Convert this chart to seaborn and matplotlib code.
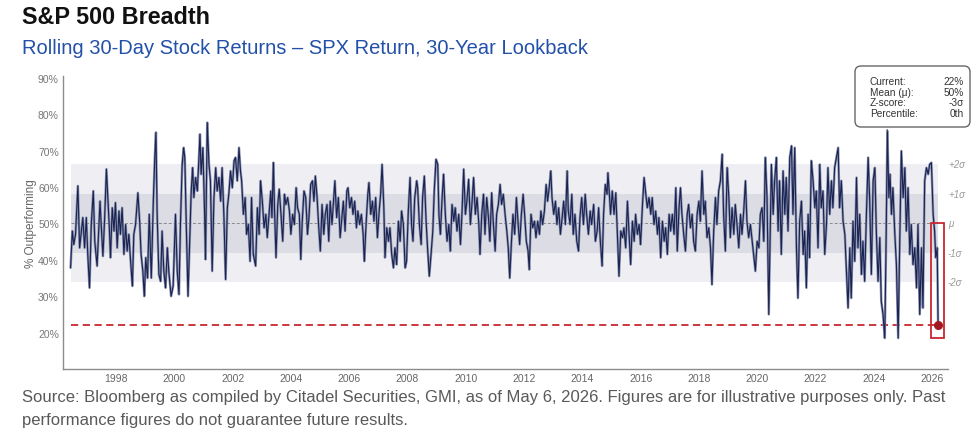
import matplotlib
matplotlib.use("Agg")
import matplotlib.pyplot as plt
import matplotlib.transforms as mtrans
from matplotlib.patches import FancyBboxPatch, Rectangle
import pandas as pd
import seaborn as sns

# ---------------- data (decimal year, % outperforming) ----------------
seg_1996_2002 = [(1996.44,37.8),(1996.50,47.9),(1996.55,44.2),(1996.61,47.0),(1996.69,60.3),(1996.75,43.3),(1996.80,47.0),(1996.86,51.6),(1996.92,43.3),(1996.98,51.6),(1997.03,41.5),(1997.09,32.3),(1997.15,49.7),(1997.22,58.9),(1997.27,45.1),(1997.35,38.3),(1997.45,56.1),(1997.49,49.7),(1997.55,41.0),(1997.61,51.6),(1997.67,64.9),(1997.72,57.1),(1997.77,48.8),(1997.81,40.6),(1997.87,54.3),(1997.93,47.9),(1997.98,55.7),(1998.04,43.3),(1998.10,53.4),(1998.15,47.0),(1998.21,54.3),(1998.27,41.5),(1998.33,49.7),(1998.38,42.4),(1998.44,47.0),(1998.50,39.6),(1998.56,32.8),(1998.61,47.0),(1998.67,49.7),(1998.75,58.4),(1998.81,50.6),(1998.86,41.5),(1998.92,36.9),(1998.97,30.0),(1999.02,40.6),(1999.08,35.0),(1999.14,52.5),(1999.21,35.0),(1999.28,56.1),(1999.33,68.1),(1999.37,75.0),(1999.41,52.5),(1999.47,36.0),(1999.53,34.1),(1999.58,47.9),(1999.64,36.9),(1999.70,32.3),(1999.76,43.3),(1999.81,36.9),(1999.89,30.0),(1999.96,32.8),(2000.04,52.5),(2000.10,36.9),(2000.16,30.5),(2000.21,49.7),(2000.27,66.2),(2000.32,70.8),(2000.36,68.1),(2000.41,49.7),(2000.47,30.0),(2000.52,43.3),(2000.58,58.9),(2000.63,65.3),(2000.67,57.1),(2000.73,62.6),(2000.79,58.9),(2000.84,67.2),(2000.88,74.5),(2000.92,63.5),(2000.98,70.8),(2001.04,52.5),(2001.07,40.1),(2001.13,77.7),(2001.19,66.2),(2001.24,61.7),(2001.30,36.9),(2001.36,57.1),(2001.42,65.3),(2001.47,58.9),(2001.53,62.6),(2001.59,56.1),(2001.64,65.3),(2001.70,52.5),(2001.76,34.6),(2001.82,54.3),(2001.87,58.0),(2001.93,64.4),(2001.99,59.8),(2002.05,67.2),(2002.10,68.1),(2002.16,61.7),(2002.22,70.8),(2002.27,64.4)]

seg_2002_2008 = [(2002.31,61.7),(2002.37,52.5),(2002.43,57.1),(2002.48,47.0),(2002.54,49.7),(2002.60,39.6),(2002.65,57.1),(2002.71,41.5),(2002.79,38.3),(2002.85,54.3),(2002.91,47.0),(2002.96,61.7),(2003.02,56.1),(2003.08,48.8),(2003.14,52.5),(2003.19,46.1),(2003.25,52.5),(2003.31,58.9),(2003.35,51.6),(2003.40,66.7),(2003.44,53.4),(2003.49,40.6),(2003.55,55.2),(2003.60,59.4),(2003.66,52.5),(2003.72,45.1),(2003.78,58.0),(2003.83,55.2),(2003.89,57.1),(2003.95,53.4),(2004.00,47.0),(2004.06,52.5),(2004.12,49.7),(2004.18,59.8),(2004.23,54.3),(2004.29,52.5),(2004.34,40.1),(2004.39,50.6),(2004.45,58.9),(2004.51,57.1),(2004.57,47.0),(2004.62,51.6),(2004.68,60.7),(2004.74,61.7),(2004.79,56.1),(2004.84,63.0),(2004.90,57.1),(2004.95,49.7),(2005.01,42.4),(2005.07,55.2),(2005.13,47.0),(2005.18,52.5),(2005.24,55.2),(2005.30,45.1),(2005.35,56.1),(2005.41,49.7),(2005.47,57.1),(2005.51,61.7),(2005.57,51.6),(2005.63,57.1),(2005.69,46.1),(2005.74,50.6),(2005.80,56.1),(2005.86,47.9),(2005.92,58.9),(2005.96,59.8),(2006.02,54.3),(2006.08,57.1),(2006.13,52.5),(2006.19,56.1),(2006.25,48.8),(2006.30,53.4),(2006.36,49.7),(2006.42,52.5),(2006.48,47.0),(2006.52,39.6),(2006.58,49.7),(2006.64,58.0),(2006.68,61.2),(2006.74,52.5),(2006.80,56.1),(2006.85,50.6),(2006.91,57.1),(2006.97,46.1),(2007.03,53.4),(2007.08,58.0),(2007.13,66.2),(2007.19,54.3),(2007.23,40.6),(2007.29,48.8),(2007.35,45.1),(2007.40,48.8),(2007.46,41.5),(2007.52,37.8),(2007.57,43.3),(2007.63,38.7),(2007.69,50.6),(2007.75,45.1),(2007.80,53.4),(2007.86,49.7),(2007.92,37.8),(2007.97,39.6),(2008.03,53.4),(2008.09,62.6),(2008.14,49.7),(2008.19,45.1),(2008.25,57.1),(2008.32,61.7)]

seg_2008_2014 = [(2008.35,59.8),(2008.41,49.7),(2008.47,44.2),(2008.52,57.1),(2008.58,63.0),(2008.64,50.6),(2008.69,43.3),(2008.75,35.5),(2008.81,41.5),(2008.87,47.9),(2008.92,58.9),(2008.98,67.6),(2009.04,66.2),(2009.08,52.5),(2009.13,47.0),(2009.19,57.1),(2009.24,63.5),(2009.30,52.5),(2009.36,45.1),(2009.42,49.7),(2009.47,42.4),(2009.53,55.2),(2009.59,50.6),(2009.64,54.3),(2009.70,47.9),(2009.76,52.5),(2009.82,44.2),(2009.87,52.5),(2009.93,64.9),(2009.99,52.5),(2010.04,56.1),(2010.10,62.1),(2010.16,49.7),(2010.22,56.1),(2010.27,62.6),(2010.33,52.5),(2010.39,57.1),(2010.45,49.7),(2010.49,41.5),(2010.55,52.5),(2010.61,58.0),(2010.66,47.0),(2010.72,57.1),(2010.78,51.6),(2010.83,45.1),(2010.89,58.4),(2010.95,49.7),(2011.01,42.4),(2011.06,52.5),(2011.12,55.2),(2011.18,60.7),(2011.23,55.2),(2011.29,58.0),(2011.35,52.5),(2011.41,47.9),(2011.46,43.3),(2011.51,35.0),(2011.57,45.1),(2011.62,52.5),(2011.68,47.0),(2011.74,57.1),(2011.80,49.7),(2011.85,44.2),(2011.91,52.5),(2011.97,58.0),(2012.02,52.5),(2012.08,45.1),(2012.14,42.4),(2012.18,37.3),(2012.24,52.5),(2012.30,48.8),(2012.36,50.6),(2012.41,46.1),(2012.47,50.6),(2012.53,47.0),(2012.58,53.4),(2012.64,49.7),(2012.70,53.4),(2012.76,60.7),(2012.81,56.1),(2012.87,60.3),(2012.92,64.4),(2012.96,57.1),(2013.02,52.5),(2013.08,56.1),(2013.13,49.7),(2013.19,54.3),(2013.25,47.0),(2013.31,51.6),(2013.36,56.1),(2013.42,49.7),(2013.48,64.4),(2013.52,53.4),(2013.58,49.7),(2013.64,58.0),(2013.69,47.0),(2013.75,52.5),(2013.81,45.1),(2013.87,42.4),(2013.92,51.6),(2013.98,57.1),(2014.04,49.7),(2014.10,58.0),(2014.15,52.5),(2014.21,47.0),(2014.27,53.4),(2014.32,49.7)]

seg_2014_2020 = [(2014.39,55.2),(2014.45,45.1),(2014.51,47.9),(2014.56,54.3),(2014.62,45.1),(2014.68,38.3),(2014.73,52.5),(2014.79,60.7),(2014.85,58.0),(2014.88,63.9),(2014.93,58.0),(2014.97,52.5),(2015.03,58.9),(2015.09,52.5),(2015.15,58.4),(2015.20,47.9),(2015.26,35.5),(2015.32,47.9),(2015.38,46.1),(2015.43,48.8),(2015.49,43.3),(2015.55,56.1),(2015.60,47.9),(2015.66,38.7),(2015.72,50.6),(2015.78,45.1),(2015.83,52.5),(2015.89,47.0),(2015.95,49.7),(2016.00,44.2),(2016.06,54.3),(2016.12,62.6),(2016.18,58.0),(2016.23,54.3),(2016.29,57.1),(2016.35,52.5),(2016.40,57.1),(2016.46,49.7),(2016.52,53.4),(2016.58,47.0),(2016.63,51.6),(2016.69,40.6),(2016.75,50.6),(2016.81,45.1),(2016.86,48.8),(2016.92,41.5),(2016.98,52.5),(2017.03,47.9),(2017.09,52.5),(2017.15,47.0),(2017.21,59.8),(2017.26,42.4),(2017.32,54.3),(2017.37,59.8),(2017.42,52.5),(2017.48,47.0),(2017.54,42.4),(2017.60,52.5),(2017.65,55.2),(2017.71,48.8),(2017.77,52.5),(2017.82,45.1),(2017.88,42.4),(2017.94,52.5),(2018.00,56.1),(2018.05,50.6),(2018.11,64.4),(2018.17,52.5),(2018.22,56.1),(2018.28,46.1),(2018.34,48.8),(2018.40,43.3),(2018.45,33.2),(2018.51,47.9),(2018.57,57.1),(2018.62,49.7),(2018.68,58.9),(2018.74,61.7),(2018.80,69.0),(2018.85,52.5),(2018.91,42.4),(2018.97,65.3),(2019.03,57.1),(2019.08,46.1),(2019.14,54.3),(2019.20,47.0),(2019.25,55.2),(2019.31,49.7),(2019.37,43.3),(2019.43,52.5),(2019.48,47.0),(2019.54,53.4),(2019.60,61.7),(2019.65,50.6),(2019.71,46.1),(2019.77,49.7),(2019.83,45.1),(2019.88,41.5),(2019.94,36.9),(2020.00,45.1),(2020.06,43.3),(2020.11,52.5),(2020.17,54.3),(2020.23,45.1),(2020.28,68.1),(2020.34,57.1),(2020.40,25.0)]

seg_2020_2026 = [(2020.43,38.7),(2020.49,66.2),(2020.55,52.5),(2020.60,61.7),(2020.66,68.1),(2020.72,47.9),(2020.77,61.7),(2020.83,41.5),(2020.89,64.4),(2020.95,52.5),(2021.00,62.6),(2021.06,47.9),(2021.12,68.1),(2021.18,71.3),(2021.23,52.5),(2021.29,70.8),(2021.35,43.3),(2021.40,29.5),(2021.46,50.6),(2021.52,56.1),(2021.58,41.5),(2021.63,47.9),(2021.69,32.3),(2021.75,52.5),(2021.80,40.6),(2021.86,67.2),(2021.92,61.7),(2021.98,54.3),(2022.03,58.9),(2022.09,43.3),(2022.15,66.2),(2022.20,54.3),(2022.26,58.9),(2022.32,41.5),(2022.38,49.7),(2022.43,65.3),(2022.49,52.5),(2022.55,61.7),(2022.60,54.3),(2022.66,65.3),(2022.72,68.1),(2022.78,70.8),(2022.83,54.3),(2022.89,61.7),(2022.95,50.6),(2023.01,47.0),(2023.06,37.8),(2023.12,26.8),(2023.18,43.3),(2023.23,29.5),(2023.29,50.6),(2023.35,39.6),(2023.41,62.6),(2023.46,43.3),(2023.52,52.5),(2023.58,36.0),(2023.63,45.1),(2023.69,34.1),(2023.75,52.5),(2023.81,68.1),(2023.86,57.1),(2023.92,36.0),(2023.98,61.7),(2024.04,65.3),(2024.09,47.9),(2024.15,34.1),(2024.21,46.1),(2024.26,28.6),(2024.32,25.0),(2024.38,18.5),(2024.42,41.5),(2024.47,75.4),(2024.52,57.1),(2024.56,63.5),(2024.61,52.5),(2024.66,59.8),(2024.72,47.9),(2024.78,38.7),(2024.84,18.5),(2024.89,43.3),(2024.95,69.9),(2025.01,57.1),(2025.07,65.3),(2025.12,47.9),(2025.18,59.8),(2025.24,41.5),(2025.29,49.7),(2025.35,38.7),(2025.41,43.3),(2025.47,32.3),(2025.52,49.7),(2025.58,25.0),(2025.64,43.3),(2025.69,26.8),(2025.75,61.7),(2025.81,65.3),(2025.87,63.5),(2025.92,66.2),(2025.98,66.7),(2026.04,52.5),(2026.09,47.9),(2026.13,40.6),(2026.18,43.3),(2026.21,22.0)]

mean_pct = 50.0
sigma_pct = 8.1
current_pct = 22.0
peak_year, peak_pct = 2024.47, 75.4
sigma_labels = ["+2σ", "+1σ", "μ", "-1σ", "-2σ"]
sigma_mults = [2, 1, 0, -1, -2]
x_ticks = list(range(1998, 2027, 2))
y_ticks = [20, 30, 40, 50, 60, 70, 80, 90]
stats_labels = ["Current:", "Mean (μ):", "Z-score:", "Percentile:"]
stats_values = ["22%", "50%", "-3σ", "0th"]

# ---------------- figure ----------------
sns.set_theme(style="white")
plt.rcParams["font.family"] = ["Liberation Sans", "DejaVu Sans"]

df = pd.DataFrame(seg_1996_2002 + seg_2002_2008 + seg_2008_2014 + seg_2014_2020 + seg_2020_2026,
                  columns=["year", "pct"])

W, H = 974, 435
fig = plt.figure(figsize=(W / 100, H / 100), dpi=100)
ax = fig.add_axes([63 / W, 1 - 370 / H, 885 / W, 293 / H])

x0, x1 = df["year"].iloc[0], df["year"].iloc[-1]
ax.fill_between([x0, x1], mean_pct - 2 * sigma_pct, mean_pct + 2 * sigma_pct,
                color="#efeff3", lw=0, zorder=0)
ax.fill_between([x0, x1], mean_pct - sigma_pct, mean_pct + sigma_pct,
                color="#dcdde4", lw=0, zorder=0)
ax.plot([x0, x1], [mean_pct, mean_pct], ls=(0, (3, 2)), color="#8a8a8a", lw=0.7, zorder=1)
ax.plot([x0, x1], [current_pct, current_pct], ls=(0, (4, 2.5)), color="#c8282e", lw=1.3, zorder=1)

sns.lineplot(data=df, x="year", y="pct", ax=ax, color="#8e96b3", lw=1.8,
             estimator=None, sort=False, zorder=2)
sns.lineplot(data=df, x="year", y="pct", ax=ax, color="#1a2250", lw=0.8,
             estimator=None, sort=False, zorder=3)

ax.scatter([x1], [current_pct], s=30, color="#a3191f", zorder=5)
ax.add_patch(Rectangle((x1 - 0.24, 18.6), 0.45, mean_pct - 18.6, fill=False,
                       ec="#c8282e", lw=1.3, zorder=6, clip_on=False))

for lab, k in zip(sigma_labels, sigma_mults):
    ax.text(2026.55, mean_pct + k * sigma_pct, lab, ha="left", va="center", fontsize=7,
            color="#9a9a9a", style="italic", clip_on=False)

ax.set_xlim(1996.18, 2026.55)
ax.set_ylim(10, 90.5)
ax.set_xticks(x_ticks)
ax.set_xticklabels([str(t) for t in x_ticks], fontsize=7.5, color="#666666",
                   family=["Liberation Sans Narrow", "Liberation Sans"])
ax.set_yticks(y_ticks)
ax.set_yticklabels([f"{t}%" for t in y_ticks], fontsize=7.5, color="#777777")
ax.tick_params(axis="both", length=0, pad=3)
ax.set_xlabel("")
ax.set_ylabel("% Outperforming", fontsize=8.5, color="#666666", labelpad=1)
for s in ["top", "right"]:
    ax.spines[s].set_visible(False)
for s in ["left", "bottom"]:
    ax.spines[s].set_color("#8c8c8c")
    ax.spines[s].set_linewidth(1.0)

# stats box (pixel coordinates)
box = FancyBboxPatch((855, H - 128), 115, 61, boxstyle="round,pad=0,rounding_size=6",
                     transform=mtrans.IdentityTransform(), fc="white", ec="#666666", lw=1.0,
                     zorder=10)
fig.patches.append(box)
ax.annotate("", xy=(peak_year, peak_pct), xycoords="data",
            xytext=(887 / W, 1 - 128 / H), textcoords="figure fraction",
            arrowprops=dict(arrowstyle="-", color="#555555", lw=1.0), zorder=9)
row_y = [82, 93, 103, 114]
for lab, val, yy in zip(stats_labels, stats_values, row_y):
    fig.text(870 / W, 1 - yy / H, lab, fontsize=7.3, color="#333333", va="center", zorder=11)
    fig.text(964 / W, 1 - yy / H, val, fontsize=7.3, color="#333333", va="center", ha="right",
             zorder=11)

fig.text(22 / W, 1 - 18 / H, "S&P 500 Breadth", fontsize=16.8, weight="bold",
         color="#111111", va="center")
fig.text(22 / W, 1 - 48 / H, "Rolling 30-Day Stock Returns – SPX Return, 30-Year Lookback",
         fontsize=14.5, color="#2350a8", va="center")
fig.text(22 / W, 1 - 398 / H,
         "Source: Bloomberg as compiled by Citadel Securities, GMI, as of May 6, 2026. "
         "Figures are for illustrative purposes only. Past",
         fontsize=12, color="#595959", va="center")
fig.text(22 / W, 1 - 421 / H, "performance figures do not guarantee future results.",
         fontsize=12, color="#595959", va="center")

fig.savefig("out.png", dpi=100)
